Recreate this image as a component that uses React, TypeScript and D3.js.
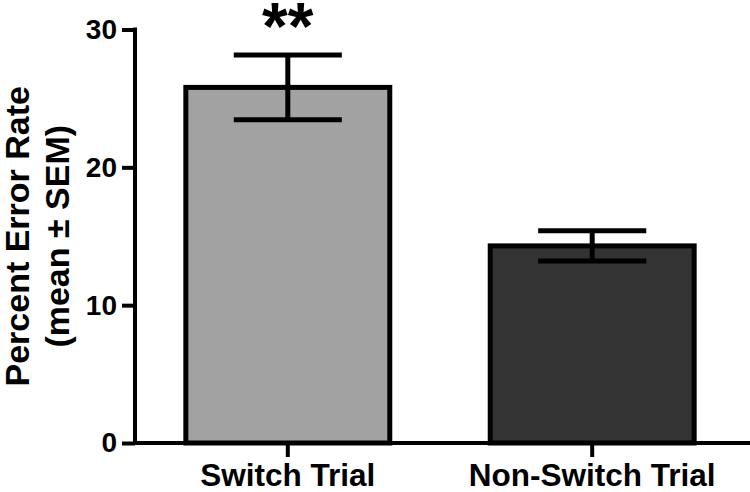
import React, { useRef, useEffect } from 'react';
import * as d3 from 'd3';

const categories = ['Switch Trial', 'Non-Switch Trial'];
const means = [25.8, 14.3];
const sems = [2.35, 1.1];
const barColors = ['#a2a2a2', '#333333'];
const yTicks = [0, 10, 20, 30];
const significance = ['**', ''];

const FONT = '"Liberation Sans", Arial, Helvetica, sans-serif';

const App = () => {
  const svgRef = useRef<SVGSVGElement>(null);

  useEffect(() => {
    document.body.style.margin = '0';
    const svg = d3.select(svgRef.current);
    svg.selectAll('*').remove();

    const width = 750;
    const height = 492;
    const axisX = 135;
    const axisY = 443;

    const x = d3.scaleBand()
      .domain(categories)
      .range([axisX, 745])
      .paddingInner(0.33)
      .paddingOuter(0.167);

    const y = d3.scaleLinear()
      .domain([0, 30])
      .range([axisY, 29.5]);

    const data = categories.map((c, i) => ({ name: c, mean: means[i], sem: sems[i], color: barColors[i], sig: significance[i] }));

    // bars
    svg.selectAll('.bar')
      .data(data)
      .enter().append('rect')
      .attr('x', d => x(d.name)!)
      .attr('width', x.bandwidth())
      .attr('y', d => y(d.mean))
      .attr('height', d => axisY - y(d.mean))
      .attr('fill', d => d.color)
      .attr('stroke', '#000')
      .attr('stroke-width', 5);

    // error bars
    const capW = x.bandwidth() * 0.53;
    const eb = svg.selectAll('.err')
      .data(data)
      .enter().append('g')
      .attr('stroke', '#000')
      .attr('stroke-width', 5);
    eb.append('line')
      .attr('x1', d => x(d.name)! + x.bandwidth() / 2)
      .attr('x2', d => x(d.name)! + x.bandwidth() / 2)
      .attr('y1', d => y(d.mean + d.sem))
      .attr('y2', d => y(d.mean - d.sem));
    eb.append('line')
      .attr('x1', d => x(d.name)! + x.bandwidth() / 2 - capW / 2)
      .attr('x2', d => x(d.name)! + x.bandwidth() / 2 + capW / 2)
      .attr('y1', d => y(d.mean + d.sem))
      .attr('y2', d => y(d.mean + d.sem));
    eb.append('line')
      .attr('x1', d => x(d.name)! + x.bandwidth() / 2 - capW / 2)
      .attr('x2', d => x(d.name)! + x.bandwidth() / 2 + capW / 2)
      .attr('y1', d => y(d.mean - d.sem))
      .attr('y2', d => y(d.mean - d.sem));

    // significance stars
    svg.selectAll('.sig')
      .data(data)
      .enter().append('text')
      .attr('x', d => x(d.name)! + x.bandwidth() / 2)
      .attr('y', 49)
      .attr('text-anchor', 'middle')
      .attr('font-family', FONT)
      .attr('font-weight', 'bold')
      .attr('font-size', 66)
      .text(d => d.sig);

    // y axis
    const yAxis = svg.append('g')
      .attr('transform', `translate(${axisX},0)`)
      .call(d3.axisLeft(y).tickValues(yTicks).tickSize(13).tickPadding(5));
    yAxis.select('.domain').remove();
    yAxis.selectAll('.tick line').attr('stroke', '#000').attr('stroke-width', 4);
    yAxis.selectAll('.tick text')
      .attr('font-family', FONT)
      .attr('font-weight', 'bold')
      .attr('font-size', 28)
      .attr('fill', '#000');
    yAxis.append('line')
      .attr('x1', 0).attr('x2', 0)
      .attr('y1', y(30) - 2).attr('y2', axisY + 2)
      .attr('stroke', '#000').attr('stroke-width', 4);

    // x axis
    const xAxis = svg.append('g')
      .attr('transform', `translate(0,${axisY})`)
      .call(d3.axisBottom(x).tickSize(14).tickPadding(7));
    xAxis.select('.domain').remove();
    xAxis.selectAll('.tick line').attr('stroke', '#000').attr('stroke-width', 4);
    xAxis.selectAll('.tick text')
      .attr('font-family', FONT)
      .attr('font-weight', 'bold')
      .attr('font-size', 31.5)
      .attr('fill', '#000');
    xAxis.append('line')
      .attr('x1', axisX - 2).attr('x2', width)
      .attr('y1', 0).attr('y2', 0)
      .attr('stroke', '#000').attr('stroke-width', 4);

    // y label
    const cy = (y(0) + y(30)) / 2;
    svg.append('text')
      .attr('transform', `translate(29,${cy}) rotate(-90)`)
      .attr('text-anchor', 'middle')
      .attr('font-family', FONT)
      .attr('font-weight', 'bold')
      .attr('font-size', 34)
      .text('Percent Error Rate');
    svg.append('text')
      .attr('transform', `translate(69,${cy}) rotate(-90)`)
      .attr('text-anchor', 'middle')
      .attr('font-family', FONT)
      .attr('font-weight', 'bold')
      .attr('font-size', 34)
      .text('(mean ± SEM)');

    svg.attr('width', width).attr('height', height);
  }, []);

  return (
    <div style={{ width: 750, height: 492, background: '#fff' }}>
      <svg ref={svgRef} width={750} height={492} style={{ display: 'block' }}></svg>
    </div>
  );
};

export default App;
